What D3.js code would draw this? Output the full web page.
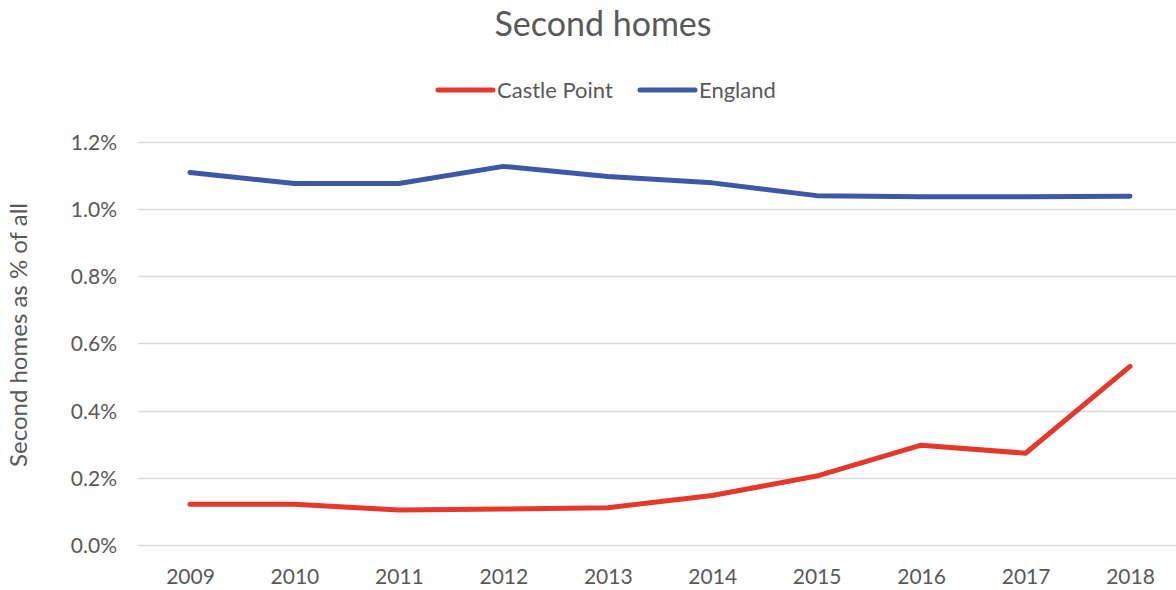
<!DOCTYPE html>
<html lang="en">
<head>
  <meta charset="UTF-8">
  <script src="https://d3js.org/d3.v7.min.js"></script>
  <title>Second homes</title>
  <style>
    body { margin: 0; background: #fff; }
    svg { display: block; }
    svg text { font-family: Lato, "Open Sans", sans-serif; }
  </style>
</head>
<body>
  <svg width="1176" height="590"></svg>
  <script>
    // data
    const years = ["2009", "2010", "2011", "2012", "2013", "2014", "2015", "2016", "2017", "2018"];
    const castlePoint = [0.121, 0.121, 0.104, 0.107, 0.111, 0.147, 0.205, 0.297, 0.273, 0.531];
    const england = [1.108, 1.075, 1.075, 1.126, 1.096, 1.077, 1.039, 1.036, 1.036, 1.037];
    const yTicks = [0, 0.2, 0.4, 0.6, 0.8, 1.0, 1.2];

    const series = [
      { name: "Castle Point", values: castlePoint, color: "#e6382a" },
      { name: "England", values: england, color: "#3d58a6" }
    ];

    const svg = d3.select("svg");
    const textColor = "#595959";

    const xScale = d3.scalePoint().domain(years).range([190, 1130]);
    const yScale = d3.scaleLinear().domain([0, 1.2]).range([545, 141.5]);

    // gridlines
    svg.append("g")
      .selectAll("line")
      .data(yTicks)
      .join("line")
      .attr("x1", 138)
      .attr("x2", 1182)
      .attr("y1", d => Math.round(yScale(d)) + 0.5)
      .attr("y2", d => Math.round(yScale(d)) + 0.5)
      .attr("stroke", "#d9d9d9")
      .attr("stroke-width", 1.3);

    // y axis labels
    const yAxis = d3.axisLeft(yScale)
      .tickValues(yTicks)
      .tickFormat(d => d.toFixed(1) + "%")
      .tickSize(0)
      .tickPadding(0);

    const yG = svg.append("g").attr("transform", "translate(117,0)").call(yAxis);
    yG.attr("font-family", null).attr("font-size", null);
    yG.select(".domain").remove();
    yG.selectAll("text")
      .attr("dy", null)
      .attr("y", 7.5)
      .attr("fill", textColor)
      .style("font-size", "21px");

    // x axis labels
    const xAxis = d3.axisBottom(xScale).tickSize(0).tickPadding(0);
    const xG = svg.append("g").attr("transform", "translate(0,584)").call(xAxis);
    xG.attr("font-family", null).attr("font-size", null);
    xG.select(".domain").remove();
    xG.selectAll("text")
      .attr("dy", null)
      .attr("y", 0)
      .attr("fill", textColor)
      .style("font-size", "21px");

    // lines
    const line = d3.line()
      .x((d, i) => xScale(years[i]))
      .y(d => yScale(d));

    svg.append("g")
      .selectAll("path")
      .data(series)
      .join("path")
      .attr("d", d => line(d.values))
      .attr("fill", "none")
      .attr("stroke", d => d.color)
      .attr("stroke-width", 5)
      .attr("stroke-linecap", "round")
      .attr("stroke-linejoin", "round");

    // title
    svg.append("text")
      .attr("x", 603)
      .attr("y", 36)
      .attr("text-anchor", "middle")
      .attr("fill", textColor)
      .style("font-size", "34px")
      .text("Second homes");

    // y axis title
    svg.append("text")
      .attr("transform", "translate(27,335) rotate(-90)")
      .attr("text-anchor", "middle")
      .attr("fill", textColor)
      .style("font-size", "24px")
      .text("Second homes as % of all");

    // legend
    const legendX = [438, 640];
    const legend = svg.append("g")
      .selectAll("g")
      .data(series)
      .join("g")
      .attr("transform", (d, i) => `translate(${legendX[i]},90)`);

    legend.append("line")
      .attr("x1", 0)
      .attr("x2", 55)
      .attr("stroke", d => d.color)
      .attr("stroke-width", 5)
      .attr("stroke-linecap", "round");

    legend.append("text")
      .attr("x", 59)
      .attr("y", 7.5)
      .attr("fill", textColor)
      .style("font-size", "22px")
      .text(d => d.name);
  </script>
</body>
</html>
